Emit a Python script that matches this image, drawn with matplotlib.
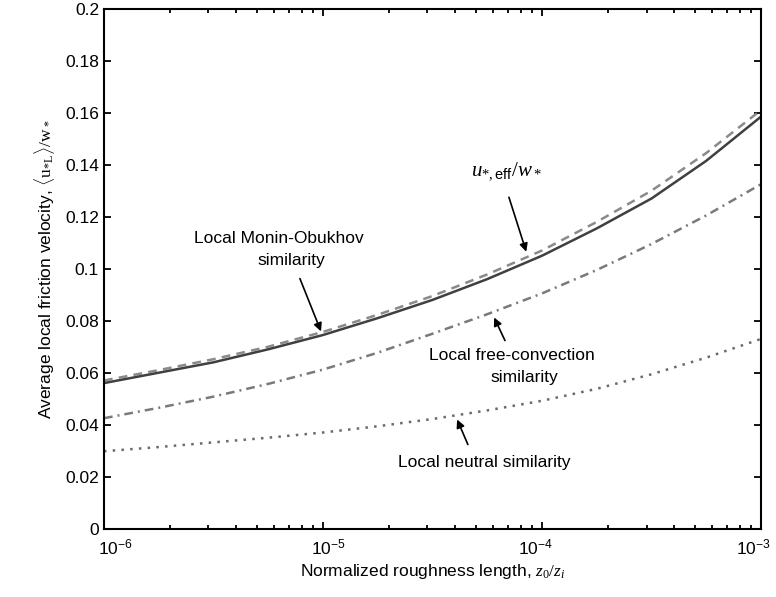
import numpy as np
import matplotlib

matplotlib.use("Agg")
import matplotlib.pyplot as plt
from matplotlib.ticker import FormatStrFormatter, LogLocator
from matplotlib.transforms import ScaledTranslation

plt.rcParams["font.family"] = ["Liberation Sans", "DejaVu Sans"]
plt.rcParams["mathtext.fontset"] = "custom"
plt.rcParams["mathtext.rm"] = "Liberation Serif"
plt.rcParams["mathtext.it"] = "Liberation Serif:italic"
plt.rcParams["mathtext.sf"] = "Liberation Sans"

# normalized roughness length z0/zi (quarter decades)
z0 = [1e-6, 1.778e-6, 3.162e-6, 5.623e-6, 1e-5, 1.778e-5, 3.162e-5,
      5.623e-5, 1e-4, 1.778e-4, 3.162e-4, 5.623e-4, 1e-3]

u_eff = [0.0560, 0.0600, 0.0640, 0.0690, 0.0745, 0.0810, 0.0880,
         0.0960, 0.1050, 0.1155, 0.1270, 0.1415, 0.1585]
monin_obukhov = [0.0570, 0.0610, 0.0652, 0.0700, 0.0757, 0.0823, 0.0895,
                 0.0978, 0.1070, 0.1180, 0.1300, 0.1445, 0.1610]
free_convection = [0.0425, 0.0465, 0.0508, 0.0557, 0.0612, 0.0677, 0.0750,
                   0.0825, 0.0905, 0.0995, 0.1095, 0.1205, 0.1325]
neutral = [0.0298, 0.0314, 0.0332, 0.0350, 0.0370, 0.0394, 0.0422,
           0.0455, 0.0492, 0.0538, 0.0594, 0.0658, 0.0730]

xticks = [1e-6, 1e-5, 1e-4, 1e-3]
yticks = [0, 0.02, 0.04, 0.06, 0.08, 0.1, 0.12, 0.14, 0.16, 0.18, 0.2]

fig = plt.figure(figsize=(7.76, 5.97), dpi=100)
ax = fig.add_axes([0.134, 0.1144, 0.8467, 0.871])

ax.plot(z0, monin_obukhov, color="#8a8a8a", lw=1.8, ls=(0, (3.5, 2.5)))
ax.plot(z0, u_eff, color="#404040", lw=1.8, ls="-")
ax.plot(z0, free_convection, color="#7a7a7a", lw=1.8, ls=(0, (3.5, 2, 0.8, 2)))
ax.plot(z0, neutral, color="#6a6a6a", lw=1.8, ls=(0, (1, 2.5)))

ax.set_xscale("log")
ax.set_xlim(1e-6, 1e-3)
ax.set_ylim(0, 0.2)
ax.set_xticks(xticks)
ax.set_yticks(yticks)
ax.yaxis.set_major_formatter(FormatStrFormatter("%g"))
ax.xaxis.set_minor_locator(LogLocator(base=10, subs=np.arange(2, 10), numticks=20))

ax.tick_params(which="both", direction="in", top=True, right=True,
               labelsize=12.5, width=1.3)
ax.tick_params(which="major", length=5)
ax.tick_params(which="minor", length=3)
ax.tick_params(axis="x", pad=6)
for s in ax.spines.values():
    s.set_linewidth(1.5)

# MATLAB-ish placement of the decade labels
for lbl, dx in zip(ax.get_xticklabels(), [11, 5, -7, -8]):
    lbl.set_transform(lbl.get_transform() + ScaledTranslation(dx / 100, 0, fig.dpi_scale_trans))

ax.set_xlabel(r"Normalized roughness length, $z_0/z_i$", fontsize=12.5, labelpad=4)
ax.set_ylabel(r"Average local friction velocity, $\langle\mathrm{u}_{*\mathrm{L}}\rangle/\mathrm{w}_*$",
              fontsize=12.5, labelpad=6)

fs = 12.5
ap = dict(arrowstyle="-|>", color="black", lw=1.2, mutation_scale=12)

# u*,eff / w*
ax.annotate("", xy=(8.55e-5, 0.1055), xytext=(7.0e-5, 0.1285), arrowprops=ap)
ax.text(6.9e-5, 0.1335, r"$u_{*,\mathsf{eff}}/w_*$", fontsize=15,
        ha="center", va="bottom")

# Local Monin-Obukhov similarity
ax.annotate("", xy=(9.9e-6, 0.0749), xytext=(7.76e-6, 0.0972), arrowprops=ap)
ax.text(6.3e-6, 0.1117, "Local Monin-Obukhov", fontsize=fs, ha="center", va="center")
ax.text(7.2e-6, 0.1033, "similarity", fontsize=fs, ha="center", va="center")

# Local free-convection similarity
ax.annotate("", xy=(5.97e-5, 0.0822), xytext=(6.86e-5, 0.0714), arrowprops=ap)
ax.text(7.3e-5, 0.0668, "Local free-convection", fontsize=fs, ha="center", va="center")
ax.text(8.35e-5, 0.0580, "similarity", fontsize=fs, ha="center", va="center")

# Local neutral similarity
ax.annotate("", xy=(4.05e-5, 0.0430), xytext=(4.64e-5, 0.0314), arrowprops=ap)
ax.text(5.43e-5, 0.0253, "Local neutral similarity", fontsize=fs, ha="center", va="center")

fig.savefig("out.png", dpi=100)
